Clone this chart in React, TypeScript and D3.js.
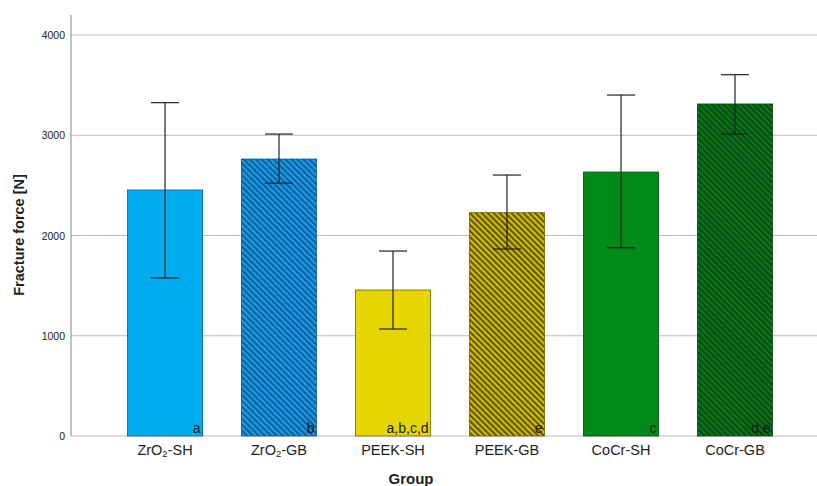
import React from "react";
import * as d3 from "d3";

const categories = ["ZrO2-SH", "ZrO2-GB", "PEEK-SH", "PEEK-GB", "CoCr-SH", "CoCr-GB"];
const means = [2454, 2763, 1456, 2228, 2633, 3312];
const errLow = [1576, 2523, 1067, 1865, 1878, 3012];
const errHigh = [3325, 3012, 1845, 2603, 3401, 3604];
const letters = ["a", "b", "a,b,c,d", "e", "c", "d,e"];
const yTicks = [0, 1000, 2000, 3000, 4000];

const fills = ["#00AEEF", "url(#hBlue)", "#E6D600", "url(#hYellow)", "#008A17", "url(#hGreen)"];

const W = 817;
const H = 486;
const font = "'Liberation Sans', Arial, Helvetica, sans-serif";

export default function App() {
  const y = d3.scaleLinear().domain([0, 4000]).range([436, 35]);
  const x = d3
    .scaleBand<string>()
    .domain(categories)
    .range([108, 792])
    .paddingInner(0.34)
    .paddingOuter(0.17);
  const bw = x.bandwidth();

  const pat = (id: string, base: string, line: string) => (
    <pattern id={id} patternUnits="userSpaceOnUse" width={4.2} height={4.2} patternTransform="rotate(-45)">
      <rect x={0} y={0} width={4.2} height={4.2} fill={base} />
      <rect x={0} y={0} width={2} height={4.2} fill={line} />
    </pattern>
  );

  const label = (c: string) => {
    if (c.startsWith("ZrO2")) {
      return (
        <>
          ZrO
          <tspan fontSize={9.5} dy={2}>2</tspan>
          <tspan dy={-2}>{c.slice(4)}</tspan>
        </>
      );
    }
    return c;
  };

  return (
    <svg width={W} height={H} style={{ position: "absolute", left: 0, top: 0, background: "#fff" }} fontFamily={font}>
      <defs>
        {pat("hBlue", "#1A9BE2", "#0B5E9E")}
        {pat("hYellow", "#D2BE00", "#5E5300")}
        {pat("hGreen", "#027A19", "#0B4512")}
      </defs>
      {yTicks.map((t) => (
        <line key={t} x1={71} x2={W} y1={y(t)} y2={y(t)} stroke="#BDBDBD" strokeWidth={1} />
      ))}
      <line x1={71} x2={71} y1={15} y2={436} stroke="#9A9A9A" strokeWidth={1.2} />
      {yTicks.map((t) => (
        <text key={t} x={65} y={y(t) + 4} textAnchor="end" fontSize={10.5} fill="#222">
          {t}
        </text>
      ))}
      {categories.map((c, i) => (
        <rect
          key={c}
          x={x(c)}
          y={y(means[i])}
          width={bw}
          height={y(0) - y(means[i])}
          fill={fills[i]}
          stroke={i < 2 ? "#0A5A8E" : i < 4 ? "#6E6400" : "#0B4A12"}
          strokeWidth={0.8}
        />
      ))}
      {categories.map((c, i) => (
        <text key={c} x={(x(c) as number) + bw - 2} y={433} textAnchor="end" fontSize={14} fill="#1a1a1a">
          {letters[i]}
        </text>
      ))}
      {categories.map((c, i) => {
        const cx = (x(c) as number) + bw / 2;
        return (
          <g key={c} stroke="#222" strokeWidth={1.2}>
            <line x1={cx} x2={cx} y1={y(errHigh[i])} y2={y(errLow[i])} />
            <line x1={cx - 14} x2={cx + 14} y1={y(errHigh[i])} y2={y(errHigh[i])} />
            <line x1={cx - 14} x2={cx + 14} y1={y(errLow[i])} y2={y(errLow[i])} />
          </g>
        );
      })}
      {categories.map((c) => (
        <text key={c} x={(x(c) as number) + bw / 2} y={455} textAnchor="middle" fontSize={14.5} fill="#222">
          {label(c)}
        </text>
      ))}
      <text x={411} y={484} textAnchor="middle" fontSize={15} fontWeight="bold" fill="#222">
        Group
      </text>
      <text
        transform="translate(24,235) rotate(-90)"
        textAnchor="middle"
        fontSize={14.5}
        fontWeight="bold"
        fill="#222"
      >
        Fracture force [N]
      </text>
    </svg>
  );
}
